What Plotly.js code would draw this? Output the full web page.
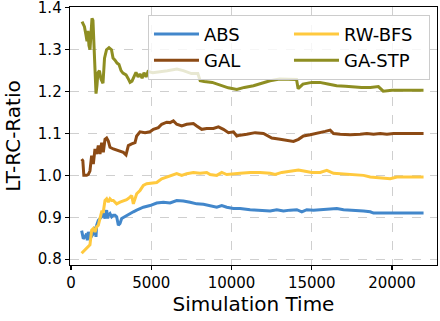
<!DOCTYPE html>
<html>
<head>
<meta charset="utf-8">
<script src="https://cdn.plot.ly/plotly-3.0.1.min.js"></script>
<style>
    html, body { margin: 0; padding: 0; background: #fff; }
    #chartContainer { width: 440px; height: 321px; }
</style>
</head>
<body>
<div id="chartContainer"></div>
<script>
// values
var absTime = [665, 769, 873, 977, 1018, 1080, 1184, 1288, 1392, 1496, 1558, 1600, 1704, 1808, 1912, 2015, 2120, 2223, 2285, 2327, 2431, 2535, 2639, 2743, 2847, 2951, 3055, 3158, 3366, 3678, 3886, 4094, 4301, 4509, 4925, 5340, 5756, 6172, 6587, 7003, 7418, 7834, 8250, 8666, 9081, 9393, 9705, 10120, 10536, 11158, 11782, 12405, 12820, 13236, 13652, 14067, 14379, 14690, 15106, 15522, 15937, 16560, 16976, 17393, 17808, 18224, 18640, 18847, 19471, 20095, 21000, 21963];
var absRatio = [0.868, 0.849, 0.853, 0.861, 0.845, 0.865, 0.849, 0.857, 0.861, 0.877, 0.853, 0.881, 0.893, 0.897, 0.901, 0.909, 0.897, 0.917, 0.897, 0.905, 0.909, 0.901, 0.905, 0.905, 0.901, 0.881, 0.885, 0.897, 0.902, 0.909, 0.913, 0.917, 0.921, 0.924, 0.928, 0.934, 0.936, 0.934, 0.940, 0.939, 0.936, 0.932, 0.931, 0.928, 0.924, 0.928, 0.924, 0.921, 0.921, 0.918, 0.917, 0.915, 0.918, 0.915, 0.917, 0.918, 0.913, 0.918, 0.917, 0.918, 0.918, 0.921, 0.918, 0.917, 0.917, 0.915, 0.913, 0.910, 0.910, 0.910, 0.910, 0.910];

var galTime = [665, 740, 800, 977, 1080, 1184, 1288, 1392, 1496, 1600, 1704, 1808, 1912, 2015, 2120, 2223, 2327, 2431, 2639, 2951, 3262, 3429, 3574, 3782, 3990, 4094, 4301, 4613, 4925, 5133, 5444, 5652, 5964, 6172, 6380, 6587, 6899, 7210, 7626, 7834, 8146, 8458, 8874, 9185, 9497, 9809, 10120, 10330, 10536, 10950, 11470, 11990, 12300, 12510, 13030, 13445, 13860, 14170, 14480, 14900, 15315, 15835, 16145, 16353, 16770, 17393, 18016, 18432, 18847, 19263, 19680, 20095, 21963];
var galRatio = [1.039, 1.035, 1.000, 1.000, 1.002, 1.011, 1.047, 1.027, 1.063, 1.051, 1.071, 1.051, 1.078, 1.055, 1.086, 1.089, 1.082, 1.067, 1.063, 1.059, 1.055, 1.049, 1.071, 1.075, 1.078, 1.094, 1.104, 1.102, 1.104, 1.110, 1.114, 1.122, 1.127, 1.126, 1.130, 1.122, 1.118, 1.122, 1.124, 1.118, 1.110, 1.112, 1.112, 1.116, 1.110, 1.102, 1.104, 1.094, 1.096, 1.098, 1.102, 1.100, 1.094, 1.089, 1.086, 1.084, 1.081, 1.086, 1.094, 1.097, 1.100, 1.105, 1.108, 1.100, 1.098, 1.097, 1.098, 1.100, 1.098, 1.100, 1.098, 1.100, 1.100];

var rwTime = [665, 873, 977, 1080, 1184, 1288, 1392, 1496, 1600, 1704, 1808, 1912, 2015, 2120, 2223, 2327, 2431, 2535, 2639, 2847, 3055, 3262, 3470, 3678, 3782, 3886, 3990, 4094, 4301, 4509, 4717, 5029, 5340, 5652, 5964, 6172, 6587, 6899, 7210, 7626, 8042, 8458, 8666, 9081, 9393, 9705, 10120, 10536, 11158, 11782, 12405, 12716, 13132, 13652, 14170, 14586, 15000, 15522, 15937, 16353, 16770, 17393, 17808, 18224, 18640, 19263, 19887, 20303, 20926, 21963];
var rwRatio = [0.814, 0.822, 0.826, 0.828, 0.834, 0.869, 0.873, 0.865, 0.877, 0.881, 0.901, 0.913, 0.913, 0.940, 0.944, 0.936, 0.944, 0.940, 0.940, 0.932, 0.936, 0.939, 0.942, 0.948, 0.952, 0.932, 0.944, 0.956, 0.964, 0.976, 0.980, 0.981, 0.983, 0.992, 0.996, 1.000, 1.004, 1.000, 1.004, 1.007, 1.005, 1.007, 1.002, 1.000, 1.007, 1.002, 1.004, 1.005, 1.007, 1.007, 1.005, 1.002, 1.007, 1.010, 1.013, 1.010, 1.007, 1.007, 1.012, 1.005, 1.004, 1.002, 1.000, 1.000, 0.996, 0.994, 0.992, 0.996, 0.996, 0.996];

var gaTime = [690, 750, 840, 935, 1000, 1060, 1120, 1185, 1250, 1310, 1370, 1430, 1500, 1560, 1620, 1680, 1775, 1870, 1995, 2090, 2215, 2370, 2525, 2620, 2745, 2870, 2990, 3120, 3240, 3430, 3550, 3680, 3800, 3930, 4050, 4180, 4300, 4430, 4550, 4680, 4800, 5100, 5500, 6000, 6600, 7000, 7500, 7900, 8050, 8300, 8800, 9300, 9800, 10330, 10800, 11370, 11900, 12400, 13000, 13600, 14050, 14150, 14450, 15000, 15500, 16000, 16550, 17100, 17600, 18100, 18650, 19150, 19450, 20000, 21000, 21960];
var gaRatio = [1.367, 1.360, 1.355, 1.335, 1.320, 1.345, 1.310, 1.300, 1.330, 1.375, 1.370, 1.300, 1.220, 1.195, 1.215, 1.245, 1.250, 1.230, 1.220, 1.280, 1.300, 1.305, 1.300, 1.280, 1.275, 1.268, 1.265, 1.250, 1.244, 1.240, 1.232, 1.222, 1.225, 1.238, 1.246, 1.235, 1.242, 1.232, 1.245, 1.235, 1.248, 1.245, 1.248, 1.250, 1.254, 1.250, 1.243, 1.243, 1.226, 1.224, 1.222, 1.215, 1.209, 1.205, 1.210, 1.214, 1.220, 1.226, 1.230, 1.230, 1.229, 1.207, 1.218, 1.222, 1.222, 1.218, 1.214, 1.213, 1.211, 1.210, 1.210, 1.212, 1.201, 1.203, 1.203, 1.203];

var seriesNames = ['ABS', 'GAL', 'RW-BFS', 'GA-STP'];
var seriesColors = ['#4287cb', '#8c4a14', '#ffc93e', '#8e8e22'];
// legend is filled row by row, so rank puts ABS/GAL in the left column
var legendRanks = [1, 3, 2, 4];

function makeTrace(i, xs, ys) {
    return {
        x: xs,
        y: ys,
        name: seriesNames[i],
        type: 'scatter',
        mode: 'lines',
        legendrank: legendRanks[i],
        line: { color: seriesColors[i], width: 3 }
    };
}

var data = [
    makeTrace(0, absTime, absRatio),
    makeTrace(1, galTime, galRatio),
    makeTrace(2, rwTime, rwRatio),
    makeTrace(3, gaTime, gaRatio)
];

var font = 'DejaVu Sans, sans-serif';

var layout = {
    width: 440,
    height: 321,
    margin: { l: 70, r: 3, t: 7, b: 56 },
    paper_bgcolor: '#fff',
    plot_bgcolor: '#fff',
    font: { family: font, color: '#000' },
    showlegend: true,
    legend: {
        orientation: 'h',
        itemwidth: 45,
        entrywidth: 80,
        x: 0.2125,
        y: 0.97,
        xanchor: 'left',
        yanchor: 'top',
        bgcolor: 'rgba(255,255,255,0.8)',
        bordercolor: '#cccccc',
        borderwidth: 1,
        font: { family: font, size: 18, color: '#000' }
    },
    xaxis: {
        range: [-60, 22800],
        tickvals: [0, 5000, 10000, 15000, 20000],
        tickformat: 'd',
        ticks: 'outside',
        ticklen: 4,
        tickwidth: 1.2,
        tickcolor: '#000',
        tickfont: { family: font, size: 15 },
        ticklabeloverflow: 'allow',
        showline: true,
        linecolor: '#000',
        linewidth: 1.3,
        mirror: true,
        showgrid: true,
        gridcolor: '#cfcfcf',
        griddash: 'dash',
        gridwidth: 1,
        zeroline: false,
        title: { text: 'Simulation Time', font: { family: font, size: 20 }, standoff: 4 }
    },
    yaxis: {
        range: [0.786, 1.402],
        tickvals: [0.8, 0.9, 1.0, 1.1, 1.2, 1.3, 1.4],
        tickformat: '.1f',
        ticks: 'outside',
        ticklen: 4,
        tickwidth: 1.2,
        tickcolor: '#000',
        tickfont: { family: font, size: 15 },
        ticklabeloverflow: 'allow',
        showline: true,
        linecolor: '#000',
        linewidth: 1.3,
        mirror: true,
        showgrid: true,
        gridcolor: '#cfcfcf',
        griddash: 'dash',
        gridwidth: 1,
        zeroline: false,
        title: { text: 'LT-RC-Ratio', font: { family: font, size: 20 }, standoff: 11 }
    }
};

Plotly.newPlot('chartContainer', data, layout, { staticPlot: true });
</script>
</body>
</html>
